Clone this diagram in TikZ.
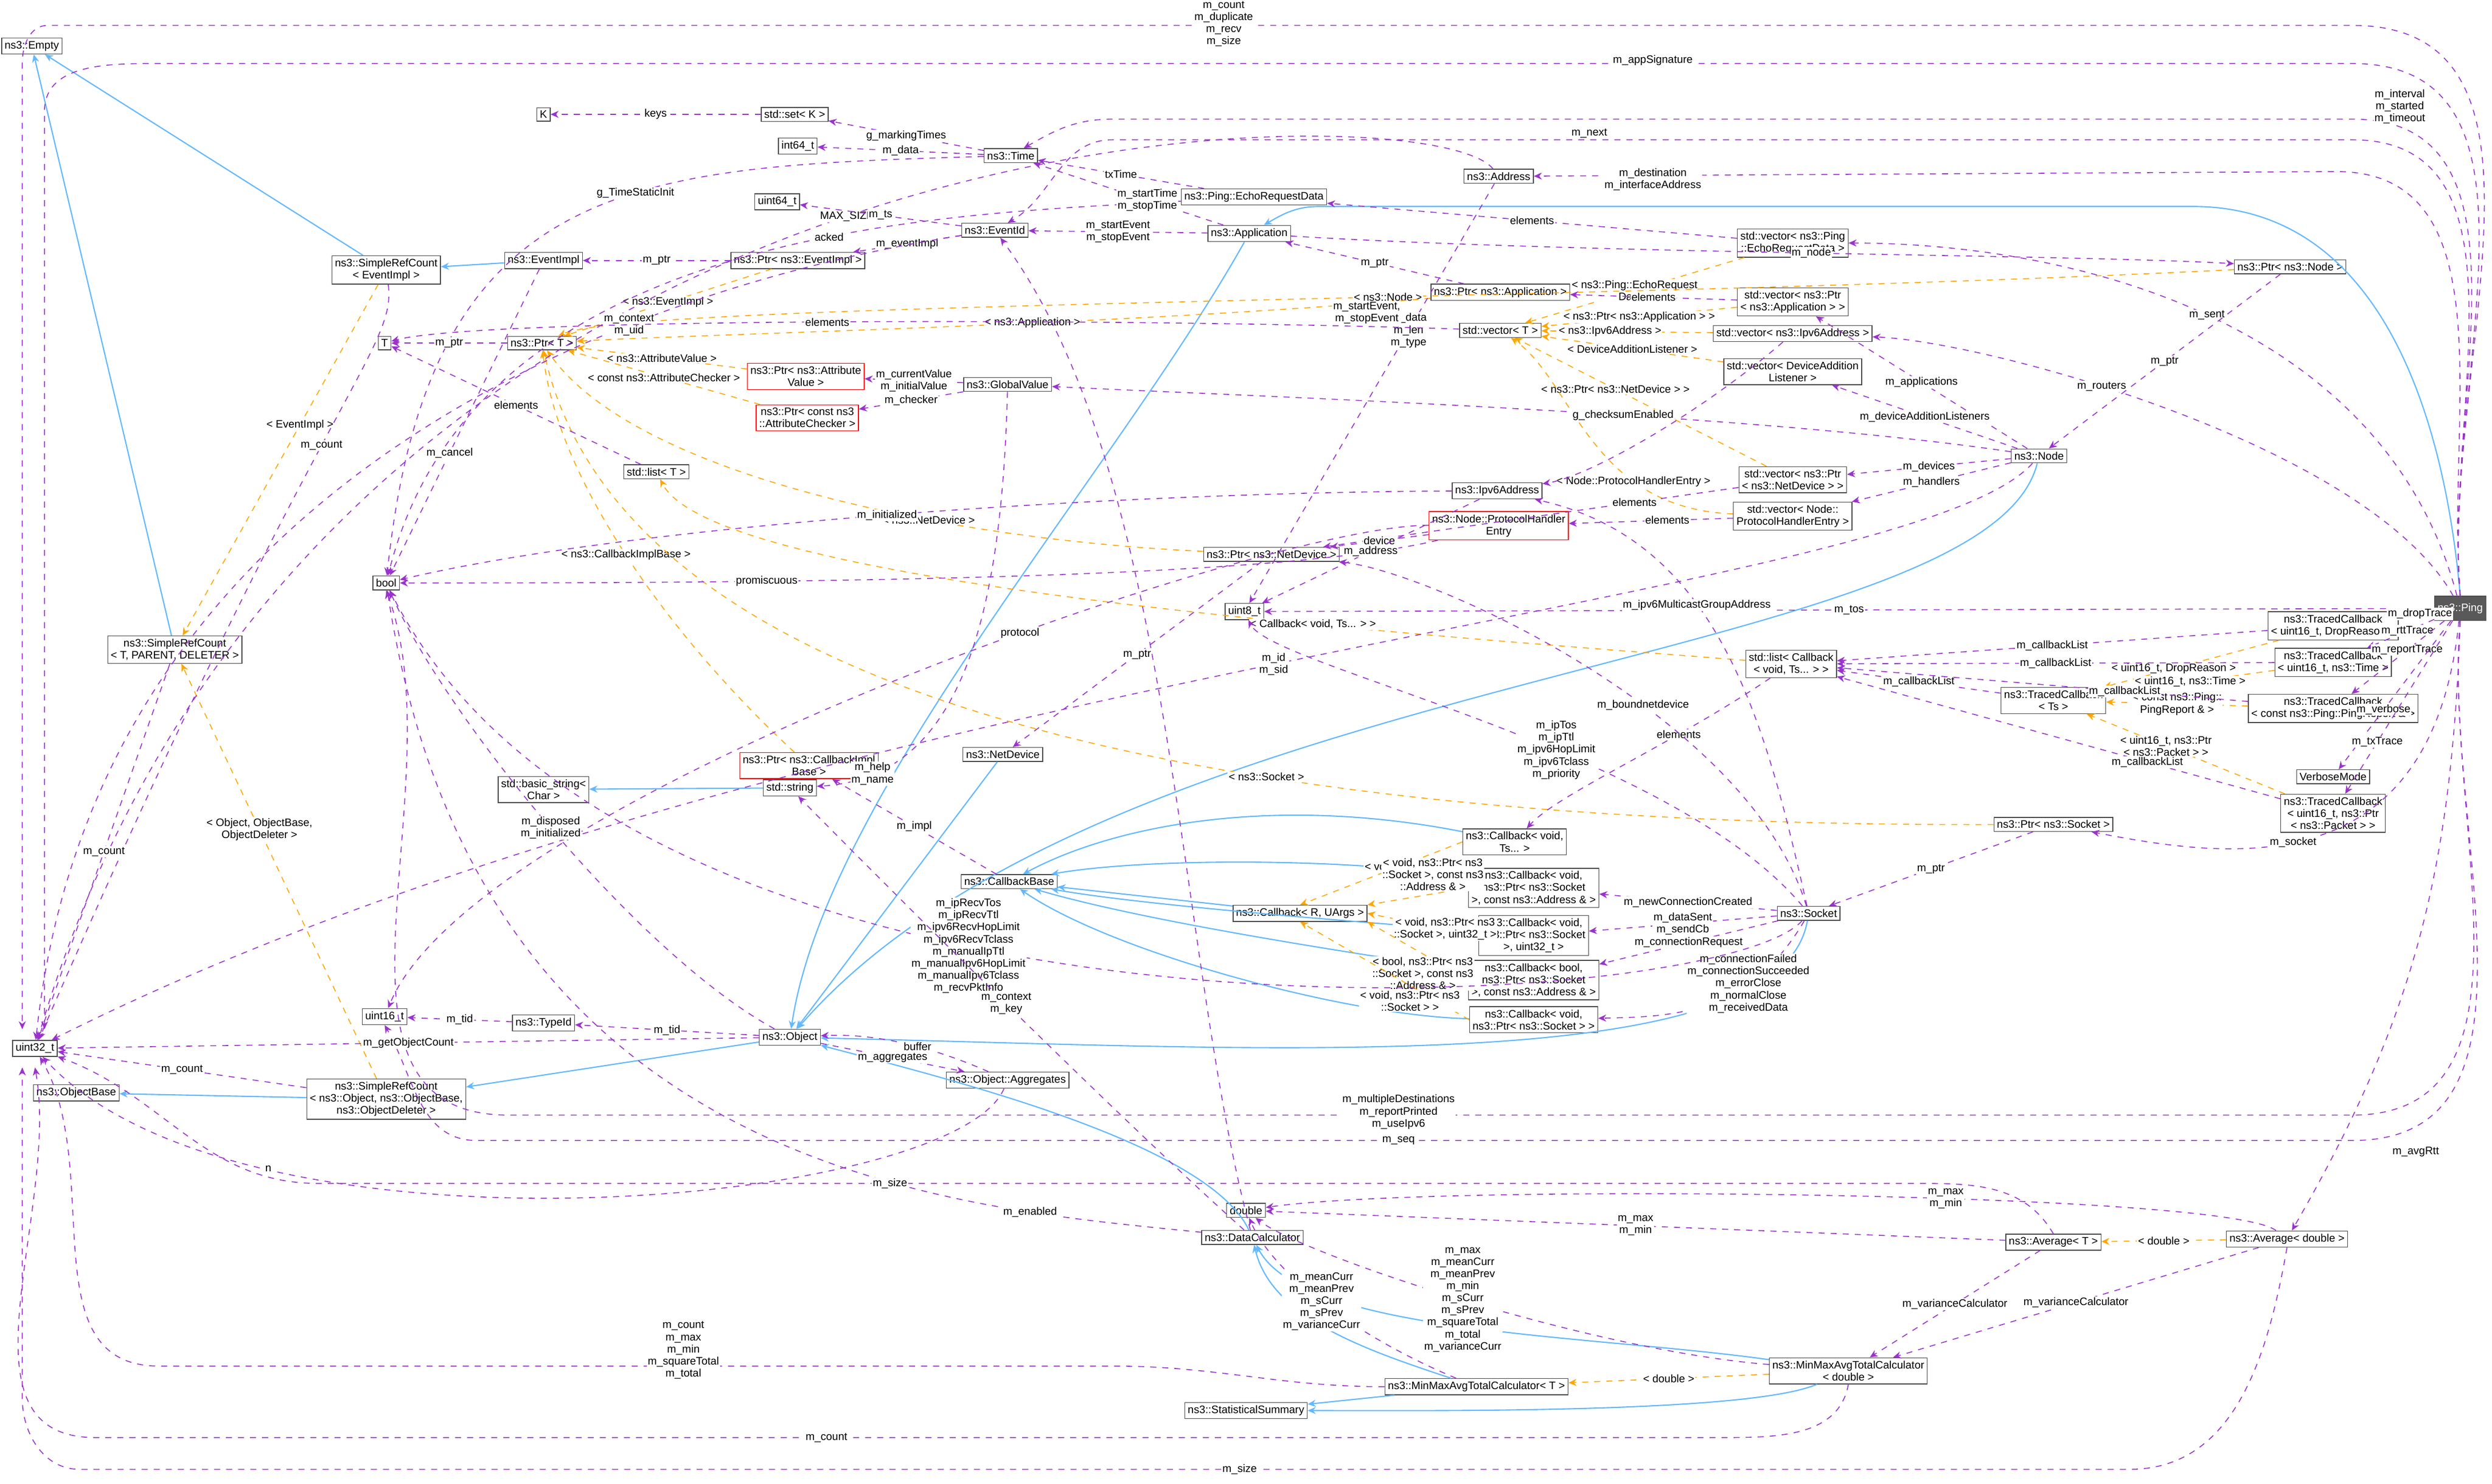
\documentclass[tikz,border=0pt]{standalone}
\usepackage{fontspec}
\setmainfont{Liberation Sans}
\usetikzlibrary{arrows.meta}
\definecolor{pur}{HTML}{9A32CD}
\definecolor{sky}{HTML}{63B8FF}
\definecolor{org}{HTML}{FFA500}
\newcommand{\dx}{\fontsize{5.4}{6}\selectfont}
\begin{document}
\begin{tikzpicture}[x=0.027787cm,y=-0.027787cm,
 box/.style={draw=gray!60!black,fill=white,rectangle,inner sep=1.5pt,align=center,font=\dx,line width=0.4pt},
 rbox/.style={box,draw=red},
 mem/.style={draw=pur,dashed,line width=0.45pt,-{Stealth[length=4pt,width=3.5pt]}},
 inh/.style={draw=sky,line width=0.6pt,-{Stealth[length=4pt,width=3.5pt]}},
 tpl/.style={draw=org,dashed,line width=0.45pt,-{Stealth[length=4pt,width=3.5pt]}},
 lbl/.style={font=\dx,align=center,inner sep=0.5pt}]
\useasboundingbox (0,0) rectangle (1568,934);
% nodes
\node[box] (empty) at (20,29) {ns3::Empty};
\node[box] (K) at (342,72) {K};
\node[box] (setK) at (500,72) {std::set< K >};
\node[box] (i64) at (502,92) {int64\_t};
\node[box] (time) at (636,98) {ns3::Time};
\node[box] (u64) at (489,127) {uint64\_t};
\node[box] (addr) at (943,111) {ns3::Address};
\node[box] (echo) at (789,124) {ns3::Ping::EchoRequestData};
\node[box] (vececho) at (1128,153) {std::vector< ns3::Ping\\::EchoRequestData >};
\node[box] (evid) at (626,145) {ns3::EventId};
\node[box] (app) at (786,147) {ns3::Application};
\node[box] (ptrnode) at (1441,168) {ns3::Ptr< ns3::Node >};
\node[box] (evimpl) at (342,164) {ns3::EventImpl};
\node[box] (ptrevimpl) at (502,164) {ns3::Ptr< ns3::EventImpl >};
\node[box] (srcev) at (243,170) {ns3::SimpleRefCount\\< EventImpl >};
\node[box] (ptrapp) at (944,184) {ns3::Ptr< ns3::Application >};
\node[box] (vecptrapp) at (1128,190) {std::vector< ns3::Ptr\\< ns3::Application > >};
\node[box] (vecT) at (944,208) {std::vector< T >};
\node[box] (vecip6) at (1128,210) {std::vector< ns3::Ipv6Address >};
\node[box] (T) at (242,216) {T};
\node[box] (ptrT) at (341,216) {ns3::Ptr< T >};
\node[rbox] (ptrattr) at (507,237) {ns3::Ptr< ns3::Attribute\\Value >};
\node[box] (gv) at (634,242) {ns3::GlobalValue};
\node[box] (vecdal) at (1128,234) {std::vector< DeviceAddition\\Listener >};
\node[box] (node) at (1283,287) {ns3::Node};
\node[rbox] (ptrchk) at (508,263) {ns3::Ptr< const ns3\\::AttributeChecker >};
\node[box] (vecnd) at (1128,302) {std::vector< ns3::Ptr\\< ns3::NetDevice > >};
\node[box] (ip6) at (942,309) {ns3::Ipv6Address};
\node[box] (listT) at (413,297) {std::list< T >};
\node[rbox] (phe) at (943,331) {ns3::Node::ProtocolHandler\\Entry};
\node[box] (vecphe) at (1128,325) {std::vector< Node::\\ProtocolHandlerEntry >};
\node[box] (ptrnd) at (800,349) {ns3::Ptr< ns3::NetDevice >};
\node[box] (bool) at (243,367) {bool};
\node[box] (u8) at (783,385) {uint8\_t};
\node[box] (tcdrop) at (1468,394) {ns3::TracedCallback\\< uint16\_t, DropReason >};
\node[box] (tcrtt) at (1468,417) {ns3::TracedCallback\\< uint16\_t, ns3::Time >};
\node[box] (listcb) at (1127,418) {std::list< Callback\\< void, Ts... > >};
\node[box] (tcTs) at (1292,441) {ns3::TracedCallback\\< Ts >};
\node[box] (tcrep) at (1468,446) {ns3::TracedCallback\\< const ns3::Ping::PingReport \& >};
\node[box] (srcT) at (110,409) {ns3::SimpleRefCount\\< T, PARENT, DELETER >};
\node[box,fill=gray!70!black,text=white,minimum height=12pt] (ping) at (1548,383) {ns3::Ping};
\node[rbox] (ptrcbi) at (509,482) {ns3::Ptr< ns3::CallbackImpl\\Base >};
\node[box] (nd) at (631,475) {ns3::NetDevice};
\node[box] (verb) at (1468,489) {VerboseMode};
\node[box] (tcpkt) at (1468,512) {ns3::TracedCallback\\< uint16\_t, ns3::Ptr\\< ns3::Packet > >};
\node[box] (bstr) at (342,497) {std::basic\_string<\\Char >};
\node[box] (str) at (497,496) {std::string};
\node[box] (ptrsock) at (1292,519) {ns3::Ptr< ns3::Socket >};
\node[box] (cbts) at (953,530) {ns3::Callback< void,\\Ts... >};
\node[box] (cbbase) at (635,555) {ns3::CallbackBase};
\node[box] (cbaddr) at (965,559) {ns3::Callback< void,\\ns3::Ptr< ns3::Socket\\>, const ns3::Address \& >};
\node[box] (cbR) at (818,575) {ns3::Callback< R, UArgs >};
\node[box] (sock) at (1138,575) {ns3::Socket};
\node[box] (cbu32) at (965,589) {ns3::Callback< void,\\ns3::Ptr< ns3::Socket\\>, uint32\_t >};
\node[box] (cbbool) at (965,617) {ns3::Callback< bool,\\ns3::Ptr< ns3::Socket\\>, const ns3::Address \& >};
\node[box] (cbsock) at (965,642) {ns3::Callback< void,\\ns3::Ptr< ns3::Socket > >};
\node[box] (u16) at (242,640) {uint16\_t};
\node[box] (typeid) at (342,644) {ns3::TypeId};
\node[box] (obj) at (497,653) {ns3::Object};
\node[box] (u32) at (22,660) {uint32\_t};
\node[box] (objbase) at (48,688) {ns3::ObjectBase};
\node[box] (srcobj) at (243,692) {ns3::SimpleRefCount\\< ns3::Object, ns3::ObjectBase,\\ns3::ObjectDeleter >};
\node[box] (agg) at (634,680) {ns3::Object::Aggregates};
\node[box] (dbl) at (784,762) {double};
\node[box] (avgT) at (1292,782) {ns3::Average< T >};
\node[box] (dc) at (788,779) {ns3::DataCalculator};
\node[box] (avgd) at (1439,780) {ns3::Average< double >};
\node[box] (mmd) at (1163,863) {ns3::MinMaxAvgTotalCalculator\\< double >};
\node[box] (mmT) at (929,873) {ns3::MinMaxAvgTotalCalculator< T >};
\node[box] (stat) at (784,888) {ns3::StatisticalSummary};
% inheritance
\draw[inh] (srcev) -- (empty);
\draw[inh] (srcT) -- (empty);
\draw[inh] (evimpl) -- (srcev);
\draw[inh] (ping.north) to[out=95,in=0] (1380,130) -- (830,130) to[out=180,in=30] (app);
\draw[inh] (app) .. controls (700,300) and (520,500) .. (obj);
\draw[inh] (node) .. controls (1250,420) and (700,420) .. (obj);
\draw[inh] (nd) -- (obj);
\draw[inh] (sock) .. controls (1120,680) and (800,660) .. (obj);
\draw[inh] (obj) -- (srcobj);
\draw[inh] (srcobj) -- (objbase);
\draw[inh] (str) -- (bstr);
\draw[inh] (cbts) .. controls (800,500) and (700,520) .. (cbbase);
\draw[inh] (cbaddr) .. controls (850,540) and (720,540) .. (cbbase);
\draw[inh] (cbR) -- (cbbase);
\draw[inh] (cbu32) .. controls (850,580) and (720,570) .. (cbbase);
\draw[inh] (cbbool) .. controls (850,600) and (720,580) .. (cbbase);
\draw[inh] (cbsock) .. controls (850,640) and (700,600) .. (cbbase);
\draw[inh] (dc) .. controls (760,720) and (600,680) .. (obj);
\draw[inh] (mmd) .. controls (1000,840) and (820,840) .. (dc);
\draw[inh] (mmT) .. controls (860,850) and (800,830) .. (dc);
\draw[inh] (mmd) .. controls (1100,890) and (900,888) .. (stat);
\draw[inh] (mmT) -- (stat);
% template
\draw[tpl] (vececho) -- node[lbl,pos=0.5,fill=white]{< ns3::Ping::EchoRequest\\Data >} (vecT);
\draw[tpl] (ptrnode) .. controls (1000,190) and (400,190) .. node[lbl,pos=0.4,fill=white]{< ns3::Node >} (ptrT);
\draw[tpl] (ptrapp) .. controls (700,205) and (450,210) .. node[lbl,pos=0.4,fill=white]{< ns3::Application >} (ptrT);
\draw[tpl] (vecptrapp) -- node[lbl,fill=white]{< ns3::Ptr< ns3::Application > >} (vecT);
\draw[tpl] (vecip6) -- node[lbl,pos=0.6,fill=white]{< ns3::Ipv6Address >} (vecT);
\draw[tpl] (vecdal) -- node[lbl,fill=white]{< DeviceAdditionListener >} (vecT);
\draw[tpl] (vecnd) -- node[lbl,pos=0.6,fill=white]{< ns3::Ptr< ns3::NetDevice > >} (vecT);
\draw[tpl] (vecphe) .. controls (1000,320) and (990,240) .. node[lbl,pos=0.3,fill=white]{< Node::ProtocolHandlerEntry >} (vecT);
\draw[tpl] (ptrattr) -- node[lbl,fill=white]{< ns3::AttributeValue >} (ptrT);
\draw[tpl] (ptrchk) -- node[lbl,fill=white]{< const ns3::AttributeChecker >} (ptrT);
\draw[tpl] (ptrevimpl) -- node[lbl,pos=0.5,fill=white]{< ns3::EventImpl >} (ptrT);
\draw[tpl] (ptrnd) .. controls (600,340) and (400,300) .. node[lbl,pos=0.35,fill=white]{< ns3::NetDevice >} (ptrT);
\draw[tpl] (ptrcbi) .. controls (420,400) and (350,300) .. node[lbl,pos=0.5,fill=white]{< ns3::CallbackImplBase >} (ptrT);
\draw[tpl] (ptrsock) .. controls (900,520) and (400,480) .. node[lbl,pos=0.4,fill=white]{< ns3::Socket >} (ptrT);
\draw[tpl] (listcb) .. controls (900,400) and (450,370) .. node[lbl,pos=0.35,fill=white]{< Callback< void, Ts... > >} (listT);
\draw[tpl] (srcev) -- node[lbl,pos=0.4,fill=white]{< EventImpl >} (srcT);
\draw[tpl] (srcobj) -- node[lbl,pos=0.6,fill=white]{< Object, ObjectBase,\\ObjectDeleter >} (srcT);
\draw[tpl] (tcdrop) -- node[lbl,pos=0.6,fill=white]{< uint16\_t, DropReason >} (tcTs);
\draw[tpl] (tcrtt) -- node[lbl,pos=0.5,fill=white]{< uint16\_t, ns3::Time >} (tcTs);
\draw[tpl] (tcrep) -- node[lbl,pos=0.5,fill=white]{< const ns3::Ping::\\PingReport \& >} (tcTs);
\draw[tpl] (tcpkt) -- node[lbl,pos=0.6,fill=white]{< uint16\_t, ns3::Ptr\\< ns3::Packet > >} (tcTs);
\draw[tpl] (cbts.west) -- node[lbl,pos=0.4,fill=white]{< void, Ts... >} (cbR.north);
\draw[tpl] (cbaddr.west) -- node[lbl,pos=0.35,fill=white,above=1pt]{< void, ns3::Ptr< ns3\\::Socket >, const ns3\\::Address \& >} (cbR.north east);
\draw[tpl] (cbu32.west) -- node[lbl,pos=0.3,fill=white]{< void, ns3::Ptr< ns3\\::Socket >, uint32\_t >} (cbR.east);
\draw[tpl] (cbbool.west) -- node[lbl,pos=0.45,fill=white,below=1pt]{< bool, ns3::Ptr< ns3\\::Socket >, const ns3\\::Address \& >} (cbR.south east);
\draw[tpl] (cbsock.west) -- node[lbl,pos=0.35,fill=white,below=2pt]{< void, ns3::Ptr< ns3\\::Socket > >} (cbR.south);
\draw[tpl] (avgd) -- node[lbl,pos=0.5,fill=white]{< double >} (avgT);
\draw[tpl] (mmd) -- node[lbl,pos=0.5,fill=white]{< double >} (mmT);
% Ping members
\draw[mem] (ping.north) to[out=95,in=0] (1480,16) -- (30,16) to[out=180,in=90] (14,40) -- (14,648);
\node[lbl,fill=white] at (770,15) {m\_count\\m\_duplicate\\m\_recv\\m\_size};
\draw[mem] (ping.north) to[out=95,in=0] (1480,40) -- (100,40) to[out=180,in=90] (28,70) -- (28,648);
\node[lbl,fill=white] at (1040,38) {m\_appSignature};
\draw[mem] (ping.north) to[out=95,in=0] (1480,75) -- (700,75) to[out=180,in=30] (time);
\node[lbl,fill=white] at (1510,67) {m\_interval\\m\_started\\m\_timeout};
\draw[mem] (ping.north) to[out=95,in=0] (1480,88) -- (700,88) to[out=180,in=30] (evid);
\node[lbl,fill=white] at (1000,84) {m\_next};
\draw[mem] (ping.north) to[out=95,in=0] (1470,108) -- (addr);
\node[lbl,fill=white] at (1040,113) {m\_destination\\m\_interfaceAddress};
\draw[mem] (ping) .. controls (1500,200) and (1300,153) .. node[lbl,pos=0.5,fill=white]{m\_sent} (vececho);
\draw[mem] (ping) .. controls (1490,280) and (1250,215) .. node[lbl,pos=0.6,fill=white]{m\_routers} (vecip6);
\draw[mem] (ping) -- node[lbl,pos=0.5,fill=white]{m\_tos} (u8);
\draw[mem] (ping) -- node[lbl,pos=0.4,fill=white]{m\_dropTrace} (tcdrop);
\draw[mem] (ping) -- node[lbl,pos=0.4,fill=white]{m\_rttTrace} (tcrtt);
\draw[mem] (ping) -- node[lbl,pos=0.4,fill=white]{m\_reportTrace} (tcrep);
\draw[mem] (ping) -- node[lbl,pos=0.6,fill=white]{m\_verbose} (verb);
\draw[mem] (ping) -- node[lbl,pos=0.7,fill=white]{m\_txTrace} (tcpkt);
\draw[mem] (ping) .. controls (1530,560) and (1400,540) .. node[lbl,pos=0.55,fill=white]{m\_socket} (ptrsock);
\draw[mem] (ping.south) to[out=-95,in=0] (1480,702) -- (320,702) to[out=180,in=-70] (bool.south);
\node[lbl,fill=white] at (880,700) {m\_multipleDestinations\\m\_reportPrinted\\m\_useIpv6};
\draw[mem] (ping.south) to[out=-95,in=0] (1480,718) -- (300,718) to[out=180,in=-60] (u16.south);
\node[lbl,fill=white] at (880,718) {m\_seq};
\draw[mem] (ping.south) to[out=-92,in=60] (avgd);
\node[lbl,fill=white] at (1520,725) {m\_avgRtt};
% other members
\draw[mem] (setK) -- node[lbl,fill=white]{keys} (K);
\draw[mem] (time) -- node[lbl,fill=white]{g\_markingTimes} (setK);
\draw[mem] (time) -- node[lbl,fill=white]{m\_data} (i64);
\draw[mem] (time) .. controls (400,105) and (270,110) .. node[lbl,pos=0.4,fill=white]{g\_TimeStaticInit} (bool);
\draw[mem] (addr) .. controls (900,55) and (200,55) .. node[lbl,pos=0.5,fill=white]{MAX\_SIZE} (u32);
\draw[mem] (addr) -- node[lbl,pos=0.35,fill=white]{m\_data\\m\_len\\m\_type} (u8);
\draw[mem] (echo) -- node[lbl,fill=white]{txTime} (time);
\draw[mem] (echo) .. controls (600,135) and (300,140) .. node[lbl,pos=0.4,fill=white]{acked} (bool);
\draw[mem] (app) -- node[lbl,pos=0.4,fill=white]{m\_startTime\\m\_stopTime} (time);
\draw[mem] (app) -- node[lbl,fill=white]{m\_startEvent\\m\_stopEvent} (evid);
\draw[mem] (app) .. controls (1000,160) and (1300,160) .. node[lbl,pos=0.5,fill=white]{m\_node} (ptrnode);
\draw[mem] (evid) -- node[lbl,fill=white]{m\_ts} (u64);
\draw[mem] (evid) -- node[lbl,fill=white]{m\_eventImpl} (ptrevimpl);
\draw[mem] (evid) .. controls (400,180) and (60,300) .. node[lbl,pos=0.3,fill=white]{m\_context\\m\_uid} (u32);
\draw[mem] (ptrevimpl) -- node[lbl,fill=white]{m\_ptr} (evimpl);
\draw[mem] (evimpl) -- node[lbl,pos=0.6,fill=white]{m\_cancel} (bool);
\draw[mem] (vececho) -- node[lbl,pos=0.5,fill=white]{elements} (echo);
\draw[mem] (ptrnode) -- node[lbl,pos=0.5,fill=white]{m\_ptr} (node);
\draw[mem] (ptrapp) -- node[lbl,pos=0.5,fill=white]{m\_ptr} (app);
\draw[mem] (vecptrapp) -- node[lbl,pos=0.5,fill=white]{elements} (ptrapp);
\draw[mem] (vecip6) .. controls (1070,260) and (1000,300) .. (ip6);
\draw[mem] (vecT) .. controls (700,200) and (300,200) .. node[lbl,pos=0.5,fill=white]{elements} (T);
\draw[mem] (ptrT) -- node[lbl,fill=white]{m\_ptr} (T);
\draw[mem] (gv) -- node[lbl,fill=white]{m\_currentValue\\m\_initialValue} (ptrattr);
\draw[mem] (gv) -- node[lbl,fill=white]{m\_checker} (ptrchk);
\draw[mem] (gv) .. controls (630,400) and (600,490) .. node[lbl,pos=0.85,fill=white]{m\_help\\m\_name} (str);
\draw[mem] (node) -- node[lbl,pos=0.5,fill=white]{m\_applications} (vecptrapp);
\draw[mem] (node) -- node[lbl,pos=0.5,fill=white]{m\_deviceAdditionListeners} (vecdal);
\draw[mem] (node) .. controls (1100,260) and (800,250) .. node[lbl,pos=0.4,fill=white]{g\_checksumEnabled} (gv);
\draw[mem] (node) -- node[lbl,pos=0.5,fill=white]{m\_devices} (vecnd);
\draw[mem] (node) -- node[lbl,pos=0.5,fill=white]{m\_handlers} (vecphe);
\draw[mem] (node) .. controls (1200,380) and (500,420) .. node[lbl,pos=0.5,fill=white]{m\_id\\m\_sid} (u32);
\draw[mem] (vecnd) -- node[lbl,pos=0.25,fill=white]{elements} (ptrnd);
\draw[mem] (vecphe) -- node[lbl,pos=0.4,fill=white]{elements} (phe);
\draw[mem] (phe) -- node[lbl,pos=0.5,fill=white]{device} (ptrnd);
\draw[mem] (phe) .. controls (800,365) and (500,367) .. node[lbl,pos=0.7,fill=white]{promiscuous} (bool);
\draw[mem] (phe) .. controls (800,330) and (300,500) .. node[lbl,pos=0.4,fill=white]{protocol} (u16);
\draw[mem] (ip6) .. controls (700,310) and (400,330) .. node[lbl,pos=0.5,fill=white]{m\_initialized} (bool);
\draw[mem] (ip6) -- node[lbl,pos=0.5,fill=white]{m\_address} (u8);
\draw[mem] (listT) -- node[lbl,fill=white]{elements} (T);
\draw[mem] (listcb) .. controls (1050,470) and (980,500) .. node[lbl,pos=0.3,fill=white]{elements} (cbts);
\draw[mem] (ptrnd) -- node[lbl,pos=0.5,fill=white]{m\_ptr} (nd);
\draw[mem] (tcdrop) -- node[lbl,pos=0.5,fill=white]{m\_callbackList} (listcb);
\draw[mem] (tcrtt) -- node[lbl,pos=0.5,fill=white]{m\_callbackList} (listcb);
\draw[mem] (tcTs) -- node[lbl,pos=0.5,fill=white]{m\_callbackList} (listcb);
\draw[mem] (tcrep) -- node[lbl,pos=0.3,fill=white]{m\_callbackList} (listcb);
\draw[mem] (tcpkt) -- node[lbl,pos=0.3,fill=white]{m\_callbackList} (listcb);
\draw[mem] (srcev) .. controls (250,220) and (200,250) .. node[lbl,pos=0.5,fill=white]{m\_count} (u32);
\draw[mem] (srcT) -- node[lbl,pos=0.5,fill=white]{m\_count} (u32);
\draw[mem] (srcobj) -- node[lbl,pos=0.5,fill=white]{m\_count} (u32);
\draw[mem] (cbbase) -- node[lbl,pos=0.5,fill=white]{m\_impl} (ptrcbi);
\draw[mem] (ptrsock) -- node[lbl,pos=0.5,fill=white]{m\_ptr} (sock);
\draw[mem] (sock) -- node[lbl,pos=0.5,fill=white]{m\_newConnectionCreated} (cbaddr);
\draw[mem] (sock) -- node[lbl,pos=0.5,fill=white]{m\_dataSent\\m\_sendCb} (cbu32);
\draw[mem] (sock) -- node[lbl,pos=0.5,fill=white]{m\_connectionRequest} (cbbool);
\draw[mem] (sock) .. controls (1100,640) and (1050,640) .. node[lbl,pos=0.3,fill=white]{m\_connectionFailed\\m\_connectionSucceeded\\m\_errorClose\\m\_normalClose\\m\_receivedData} (cbsock);
\draw[mem] (sock) .. controls (1100,450) and (900,360) .. node[lbl,pos=0.4,fill=white]{m\_boundnetdevice} (ptrnd);
\draw[mem] (sock) .. controls (1050,470) and (800,420) .. node[lbl,pos=0.4,fill=white]{m\_ipTos\\m\_ipTtl\\m\_ipv6HopLimit\\m\_ipv6Tclass\\m\_priority} (u8);
\draw[mem] (sock) .. controls (1080,640) and (400,680) .. node[lbl,pos=0.6,fill=white]{m\_ipRecvTos\\m\_ipRecvTtl\\m\_ipv6RecvHopLimit\\m\_ipv6RecvTclass\\m\_manualIpTtl\\m\_manualIpv6HopLimit\\m\_manualIpv6Tclass\\m\_recvPktInfo} (bool);
\draw[mem] (sock) .. controls (1110,450) and (1080,340) .. node[lbl,pos=0.6,fill=white]{m\_ipv6MulticastGroupAddress} (ip6);
\draw[mem] (obj) -- node[lbl,pos=0.5,fill=white]{m\_tid} (typeid);
\draw[mem] (typeid) -- node[lbl,pos=0.5,fill=white]{m\_tid} (u16);
\draw[mem] (obj) -- node[lbl,pos=0.5,fill=white]{m\_getObjectCount} (u32);
\draw[mem] (obj) .. controls (400,600) and (280,450) .. node[lbl,pos=0.5,fill=white]{m\_disposed\\m\_initialized} (bool);
\draw[mem] (obj) -- node[lbl,pos=0.5,fill=white]{m\_aggregates} (agg);
\draw[mem] (agg) .. controls (600,665) and (560,650) .. node[lbl,pos=0.5,fill=white]{buffer} (obj);
\draw[mem] (agg) .. controls (600,760) and (150,800) .. node[lbl,pos=0.75,fill=white]{n} (u32);
\draw[mem] (dc) .. controls (740,600) and (740,300) .. (evid);
\node[lbl,fill=white] at (860,197) {m\_startEvent,\\m\_stopEvent};
\draw[mem] (dc) .. controls (700,700) and (560,560) .. node[lbl,pos=0.5,fill=white]{m\_context\\m\_key} (str);
\draw[mem] (dc) .. controls (600,760) and (300,740) .. node[lbl,pos=0.2,fill=white]{m\_enabled} (bool);
\draw[mem] (avgT) -- node[lbl,pos=0.5,fill=white]{m\_max\\m\_min} (dbl);
\draw[mem] (avgT.north) to[out=120,in=0] (1200,745) -- (200,745) to[out=180,in=-20] (u32);
\node[lbl,fill=white] at (560,745) {m\_size};
\draw[mem] (avgT) -- node[lbl,pos=0.5,fill=white]{m\_varianceCalculator} (mmd);
\draw[mem] (avgd) .. controls (1400,750) and (900,745) .. node[lbl,pos=0.4,fill=white]{m\_max\\m\_min} (dbl);
\draw[mem] (avgd) -- node[lbl,pos=0.5,fill=white]{m\_varianceCalculator} (mmd);
\draw[mem] (avgd.south) to[out=-100,in=0] (1340,925) -- (50,925) to[out=180,in=-90] (14,880) -- (14,672);
\node[lbl,fill=white] at (780,925) {m\_size};
\draw[mem] (mmd) .. controls (1000,850) and (820,790) .. node[lbl,pos=0.5,fill=white]{m\_max\\m\_meanCurr\\m\_meanPrev\\m\_min\\m\_sCurr\\m\_sPrev\\m\_squareTotal\\m\_total\\m\_varianceCurr} (dbl);
\draw[mem] (mmd.south) to[out=-100,in=0] (1080,905) -- (60,905) to[out=180,in=-80] (22,672);
\node[lbl,fill=white] at (520,905) {m\_count};
\draw[mem] (mmT) .. controls (850,840) and (800,800) .. node[lbl,pos=0.5,fill=white]{m\_meanCurr\\m\_meanPrev\\m\_sCurr\\m\_sPrev\\m\_varianceCurr} (dbl);
\draw[mem] (mmT.west) to[out=180,in=0] (700,860) -- (100,860) to[out=180,in=-60] (u32);
\node[lbl,fill=white] at (430,850) {m\_count\\m\_max\\m\_min\\m\_squareTotal\\m\_total};
\end{tikzpicture}
\end{document}
